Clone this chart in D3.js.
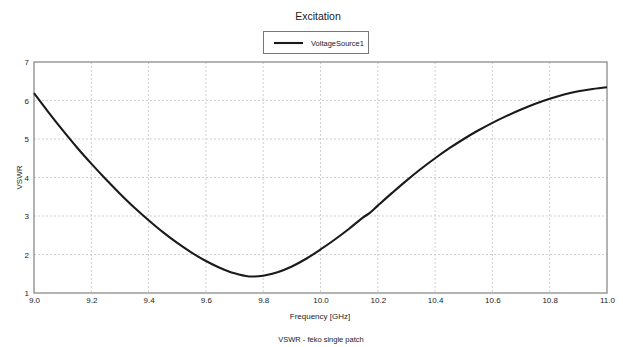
<!DOCTYPE html>
<html>
<head>
<meta charset="utf-8">
<script src="https://cdn.jsdelivr.net/npm/d3@7"></script>
<style>
  body { margin: 0; background: #fff; }
  text { font-family: "Liberation Sans", Arial, sans-serif; fill: #222; }
</style>
</head>
<body>
<svg id="chart" width="623" height="347"></svg>
<script>
var freqs = [9.00, 9.05, 9.10, 9.15, 9.20, 9.25, 9.30, 9.35, 9.40, 9.45,
             9.50, 9.55, 9.60, 9.65, 9.70, 9.75, 9.80, 9.85, 9.90, 9.95,
             10.00, 10.05, 10.10, 10.15, 10.17, 10.20, 10.25, 10.30, 10.35, 10.40,
             10.45, 10.50, 10.55, 10.60, 10.65, 10.70, 10.75, 10.80, 10.85, 10.90,
             10.95, 11.00]
var vswr = [6.19, 5.70, 5.23, 4.78, 4.36, 3.96, 3.58, 3.22, 2.89, 2.58,
            2.30, 2.05, 1.83, 1.65, 1.51, 1.43, 1.45, 1.54, 1.69, 1.89,
            2.13, 2.39, 2.67, 2.97, 3.07, 3.27, 3.60, 3.92, 4.22, 4.50,
            4.76, 5.00, 5.22, 5.42, 5.60, 5.765, 5.915, 6.045, 6.155, 6.24,
            6.30, 6.345]
var xTicks = [9.0, 9.2, 9.4, 9.6, 9.8, 10.0, 10.2, 10.4, 10.6, 10.8, 11.0]
var yTicks = [1, 2, 3, 4, 5, 6, 7]
var seriesName = "VoltageSource1"

var margins = {left: 34, right: 16, top: 62, bottom: 54}
var outerWidth = 623, outerHeight = 347
var innerWidth = outerWidth - margins.left - margins.right
var innerHeight = outerHeight - margins.top - margins.bottom

var svg = d3.select("svg#chart")

var xScale = d3.scaleLinear().domain([9, 11]).range([0, innerWidth])
var yScale = d3.scaleLinear().domain([1, 7]).range([innerHeight, 0])

var plot = svg.append("g")
    .attr("transform", "translate(" + margins.left + "," + margins.top + ")")

// grid
plot.append("g").selectAll("line")
    .data(xTicks.slice(1, -1))
    .enter().append("line")
    .attr("x1", function(d) { return xScale(d) })
    .attr("x2", function(d) { return xScale(d) })
    .attr("y1", 0).attr("y2", innerHeight)
    .attr("stroke", "#cfcfcf").attr("stroke-dasharray", "2,2")

plot.append("g").selectAll("line")
    .data(yTicks.slice(1, -1))
    .enter().append("line")
    .attr("y1", function(d) { return yScale(d) })
    .attr("y2", function(d) { return yScale(d) })
    .attr("x1", 0).attr("x2", innerWidth)
    .attr("stroke", "#cfcfcf").attr("stroke-dasharray", "2,2")

// frame
plot.append("rect")
    .attr("width", innerWidth).attr("height", innerHeight)
    .attr("fill", "none").attr("stroke", "#8a8a8a").attr("stroke-width", 1.3)

// axes (labels only)
var xAxis = plot.append("g")
    .attr("transform", "translate(0," + innerHeight + ")")
    .call(d3.axisBottom(xScale).tickValues(xTicks).tickFormat(d3.format(".1f")).tickSize(0).tickPadding(4))
xAxis.select(".domain").remove()
xAxis.selectAll("text").attr("font-size", "8px").attr("fill", "#333")
    .style("font-family", "'Liberation Sans', Arial, sans-serif")

var yAxis = plot.append("g")
    .call(d3.axisLeft(yScale).tickValues(yTicks).tickFormat(d3.format("d")).tickSize(0).tickPadding(5))
yAxis.select(".domain").remove()
yAxis.selectAll("text").attr("font-size", "8px").attr("fill", "#333")
    .style("font-family", "'Liberation Sans', Arial, sans-serif")

// curve
var points = freqs.map(function(f, i) { return {x: f, y: vswr[i]} })
var line = d3.line()
    .x(function(d) { return xScale(d.x) })
    .y(function(d) { return yScale(d.y) })
    .curve(d3.curveCatmullRom.alpha(0.5))

plot.append("path")
    .datum(points)
    .attr("d", line)
    .attr("fill", "none")
    .attr("stroke", "#1a1a1a")
    .attr("stroke-width", 2.1)

// titles
svg.append("text")
    .attr("x", 318).attr("y", 20)
    .attr("text-anchor", "middle")
    .attr("font-size", "10.5px")
    .text("Excitation")

svg.append("text")
    .attr("x", 320).attr("y", 319)
    .attr("text-anchor", "middle")
    .attr("font-size", "8px")
    .text("Frequency [GHz]")

svg.append("text")
    .attr("transform", "translate(22," + (margins.top + innerHeight / 2) + ") rotate(-90)")
    .attr("text-anchor", "middle")
    .attr("font-size", "8px")
    .text("VSWR")

svg.append("text")
    .attr("x", 321).attr("y", 342)
    .attr("text-anchor", "middle")
    .attr("font-size", "7.5px")
    .text("VSWR - feko single patch")

// legend
var legend = svg.append("g")
legend.append("rect")
    .attr("x", 263.5).attr("y", 31.5).attr("width", 105).attr("height", 22)
    .attr("fill", "#fff").attr("stroke", "#777")
legend.append("line")
    .attr("x1", 274).attr("x2", 303).attr("y1", 43).attr("y2", 43)
    .attr("stroke", "#1a1a1a").attr("stroke-width", 2.1)
legend.append("text")
    .attr("x", 311).attr("y", 45.5)
    .attr("font-size", "7.5px")
    .text(seriesName)
</script>
</body>
</html>
